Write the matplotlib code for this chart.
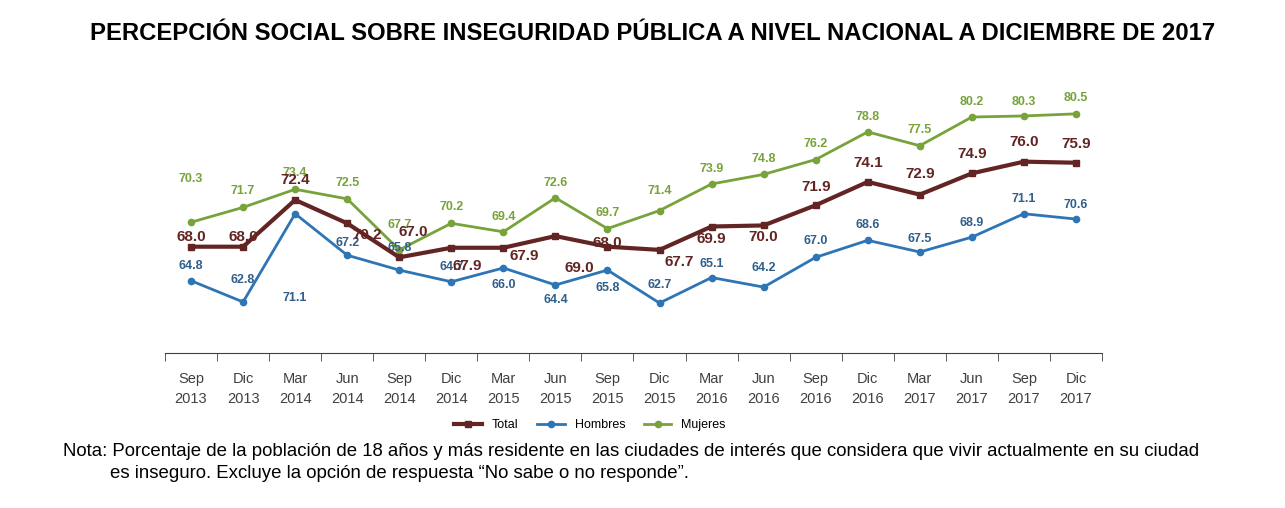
import numpy as np
from matplotlib import pyplot as plt
from matplotlib.ticker import FixedLocator

plt.rcParams['font.family'] = ['Liberation Sans', 'DejaVu Sans']

periodos = ['Sep\n2013', 'Dic\n2013', 'Mar\n2014', 'Jun\n2014', 'Sep\n2014', 'Dic\n2014',
            'Mar\n2015', 'Jun\n2015', 'Sep\n2015', 'Dic\n2015', 'Mar\n2016', 'Jun\n2016',
            'Sep\n2016', 'Dic\n2016', 'Mar\n2017', 'Jun\n2017', 'Sep\n2017', 'Dic\n2017']
total = [68.0, 68.0, 72.4, 70.2, 67.0, 67.9, 67.9, 69.0, 68.0, 67.7, 69.9, 70.0,
         71.9, 74.1, 72.9, 74.9, 76.0, 75.9]
hombres = [64.8, 62.8, 71.1, 67.2, 65.8, 64.7, 66.0, 64.4, 65.8, 62.7, 65.1, 64.2,
           67.0, 68.6, 67.5, 68.9, 71.1, 70.6]
mujeres = [70.3, 71.7, 73.4, 72.5, 67.7, 70.2, 69.4, 72.6, 69.7, 71.4, 73.9, 74.8,
           76.2, 78.8, 77.5, 80.2, 80.3, 80.5]

# label offsets in pixels (dx, dy downward)
off_total = [(0, -10), (0, -10), (0, -20), (20, 12), (14, -25), (16, 18), (21, 8), (24, 32),
             (0, -4), (20, 12), (0, 12), (0, 12), (0, -18), (0, -19), (0, -21), (0, -19),
             (0, -20), (0, -19)]
off_hom = [-15, -22, 84, -12, -22, -15, 17, 15, 18, -18, -14, -19, -16, -15, -13, -14, -15, -14]
off_muj = [-43, -16, -16, -16, -25, -16, -15, -15, -16, -20, -15, -15, -16, -15, -16, -15, -14, -16]

c_total = '#632523'
c_hom = '#2E75B6'
c_muj = '#77A33A'

fig = plt.figure(figsize=(12.85, 5.08), dpi=100)
ax = fig.add_axes([165/1285, 1-353/508, 937/1285, 287/508])
x = np.arange(len(periodos))

ax.plot(x, mujeres, color=c_muj, lw=2, marker='o', ms=4.5, label='Mujeres', zorder=3)
ax.plot(x, hombres, color=c_hom, lw=2, marker='o', ms=4.5, label='Hombres', zorder=3)
ax.plot(x, total, color=c_total, lw=3, marker='s', ms=4, label='Total', zorder=4)

for i in x:
    ax.annotate(f'{mujeres[i]:.1f}', (i, mujeres[i]), xytext=(0, -off_muj[i]), textcoords='offset pixels',
                ha='center', va='center', fontsize=9, fontweight='bold', color=c_muj)
    ax.annotate(f'{hombres[i]:.1f}', (i, hombres[i]), xytext=(0, -off_hom[i]), textcoords='offset pixels',
                ha='center', va='center', fontsize=9, fontweight='bold', color='#2F5F8A')
    dx, dy = off_total[i]
    ax.annotate(f'{total[i]:.1f}', (i, total[i]), xytext=(dx, -dy), textcoords='offset pixels',
                ha='center', va='center', fontsize=11, fontweight='bold', color=c_total, zorder=5)

ax.set_xlim(-0.5, len(periodos) - 0.5)
ax.set_ylim(58, 85)
ax.set_yticks([])
ax.set_xticks(x)
ax.set_xticklabels(periodos, fontsize=10.5, color='#404040', linespacing=1.5)
ax.tick_params(axis='x', length=0, pad=14)
ax.xaxis.set_minor_locator(FixedLocator(np.arange(-0.5, len(periodos), 1)))
ax.tick_params(axis='x', which='minor', length=6, color='#404040')
for s in ['top', 'right', 'left']:
    ax.spines[s].set_visible(False)
ax.spines['bottom'].set_color('#404040')

h, l = ax.get_legend_handles_labels()
fig.legend(h[::-1], l[::-1], loc='center', bbox_to_anchor=(590/1285, 1-425/508), ncol=3,
           frameon=False, fontsize=9, handlelength=2.2, columnspacing=1.5)

fig.text(653/1285, 1-33/508, 'PERCEPCIÓN SOCIAL SOBRE INSEGURIDAD PÚBLICA A NIVEL NACIONAL A DICIEMBRE DE 2017',
         ha='center', va='center', fontsize=17.2, fontweight='bold')
fig.text(63/1285, 1-452/508, 'Nota: Porcentaje de la población de 18 años y más residente en las ciudades de interés que considera que vivir actualmente en su ciudad',
         ha='left', va='center', fontsize=13.4)
fig.text(110/1285, 1-474/508, 'es inseguro. Excluye la opción de respuesta “No sabe o no responde”.',
         ha='left', va='center', fontsize=13.4)

fig.savefig('out.png', dpi=100)
